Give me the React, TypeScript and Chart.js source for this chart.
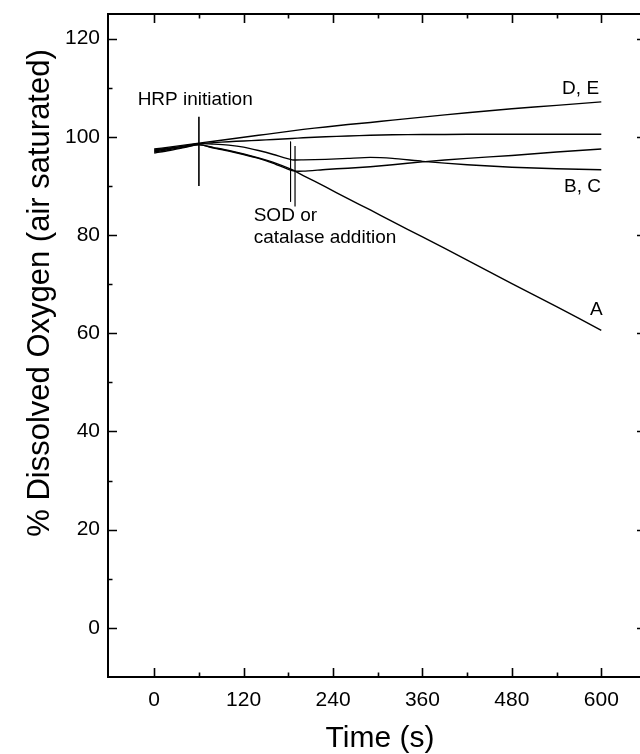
import React, { useEffect, useRef } from "react";
import { Chart, registerables } from "chart.js";

Chart.register(...registerables);

// ---- data ----
const times = [0, 20, 40, 60, 80, 100, 120, 140, 160, 185, 200, 230, 260, 290, 320, 360, 420, 480, 540, 600];
const seriesD = [97.5, 97.9, 98.3, 98.7, 99.1, 99.5, 99.9, 100.3, 100.7, 101.2, 101.5, 102.0, 102.5, 102.9, 103.4, 104.0, 104.9, 105.7, 106.4, 107.1];
const seriesE = [97.3, 97.7, 98.1, 98.6, 98.8, 99.0, 99.15, 99.3, 99.45, 99.65, 99.8, 100.0, 100.15, 100.3, 100.4, 100.45, 100.5, 100.5, 100.5, 100.5];
const seriesB = [97.1, 97.6, 98.1, 98.6, 98.5, 98.3, 97.9, 97.2, 96.4, 95.3, 95.3, 95.4, 95.6, 95.8, 95.6, 95.0, 94.3, 93.8, 93.5, 93.3];
const seriesC = [96.7, 97.2, 97.8, 98.4, 97.7, 97.1, 96.4, 95.6, 94.6, 93.1, 93.0, 93.35, 93.6, 93.9, 94.3, 94.9, 95.6, 96.2, 96.9, 97.5];
const seriesA = [96.9, 97.4, 97.9, 98.4, 97.8, 97.2, 96.5, 95.7, 94.8, 93.3, 92.1, 89.8, 87.4, 85.1, 82.7, 79.6, 74.9, 70.1, 65.4, 60.6];

// event markers (time, from value, to value)
const hrpMarker = { t: 60, from: 90.0, to: 104.1 };
const sodMarker1 = { t: 183, from: 99.0, to: 86.8 };
const sodMarker2 = { t: 189, from: 98.1, to: 85.8 };

// axis ticks
const xTickValues = [0, 120, 240, 360, 480, 600];
const xMinorValues = [60, 180, 300, 420, 540];
const yTickValues = [0, 20, 40, 60, 80, 100, 120];
const yMinorValues = [10, 30, 50, 70, 90, 110];

const xTitle = "Time (s)";
const yTitle = "% Dissolved Oxygen (air saturated)";

// text annotations (data coordinates)
const annotations = [
  { text: "HRP initiation", t: 55, v: 107.5, align: "center" },
  { text: "SOD or", t: 133.5, v: 83.9, align: "left" },
  { text: "catalase addition", t: 133.5, v: 79.4, align: "left" },
  { text: "D, E", t: 597, v: 109.8, align: "right" },
  { text: "B, C", t: 599.5, v: 89.9, align: "right" },
  { text: "A", t: 602, v: 64.7, align: "right" },
];

const FONT = "'Liberation Sans', Arial, Helvetica, sans-serif";

const toPts = (vals: number[]) => vals.map((v, i) => ({ x: times[i], y: v }));
const marker = (m: { t: number; from: number; to: number }) => [
  { x: m.t, y: m.from },
  { x: m.t, y: m.to },
];

const framePlugin = {
  id: "frameAndText",
  afterDraw(chart: any) {
    const { ctx, chartArea, scales } = chart;
    const xs = scales.x;
    const ys = scales.y;
    const { left, right, top, bottom } = chartArea;
    ctx.save();
    ctx.strokeStyle = "#000";
    ctx.lineWidth = 2;
    ctx.strokeRect(left, top, right - left, bottom - top);
    ctx.lineWidth = 1.6;
    const major = 9;
    const minor = 4.5;
    ctx.beginPath();
    const vTick = (vals: number[], len: number) => {
      vals.forEach((v) => {
        const px = Math.round(xs.getPixelForValue(v)) + 0.5;
        ctx.moveTo(px, bottom);
        ctx.lineTo(px, bottom - len);
        ctx.moveTo(px, top);
        ctx.lineTo(px, top + len);
      });
    };
    const hTick = (vals: number[], len: number) => {
      vals.forEach((v) => {
        const py = Math.round(ys.getPixelForValue(v)) + 0.5;
        ctx.moveTo(left, py);
        ctx.lineTo(left + len, py);
        ctx.moveTo(right, py);
        ctx.lineTo(right - len, py);
      });
    };
    vTick(xTickValues, major);
    vTick(xMinorValues, minor);
    hTick(yTickValues, major);
    hTick(yMinorValues, minor);
    ctx.stroke();

    // annotations
    ctx.fillStyle = "#000";
    ctx.font = `19px ${FONT}`;
    ctx.textBaseline = "middle";
    annotations.forEach((a) => {
      ctx.textAlign = a.align as CanvasTextAlign;
      ctx.fillText(a.text, xs.getPixelForValue(a.t), ys.getPixelForValue(a.v));
    });

    // axis titles
    ctx.font = `30px ${FONT}`;
    ctx.textAlign = "center";
    ctx.textBaseline = "middle";
    ctx.fillText(xTitle, 380, 739);
    ctx.font = `31px ${FONT}`;
    ctx.save();
    ctx.translate(40, 293);
    ctx.rotate(-Math.PI / 2);
    ctx.fillText(yTitle, 0, 0);
    ctx.restore();
    ctx.restore();
  },
};

export default function App() {
  const ref = useRef<HTMLCanvasElement | null>(null);
  useEffect(() => {
    if (!ref.current) return;
    const lineStyle = {
      borderColor: "#000",
      borderWidth: 1.4,
      pointRadius: 0,
      fill: false,
      tension: 0.2,
    };
    const markerStyle = {
      borderColor: "#000",
      pointRadius: 0,
      fill: false,
      tension: 0,
    };
    const chart = new Chart(ref.current, {
      type: "line",
      data: {
        datasets: [
          { label: "D", data: toPts(seriesD), ...lineStyle },
          { label: "E", data: toPts(seriesE), ...lineStyle },
          { label: "B", data: toPts(seriesB), ...lineStyle },
          { label: "C", data: toPts(seriesC), ...lineStyle },
          { label: "A", data: toPts(seriesA), ...lineStyle },
          { label: "HRP", data: marker(hrpMarker), borderWidth: 1.6, ...markerStyle },
          { label: "SOD1", data: marker(sodMarker1), borderWidth: 1, ...markerStyle },
          { label: "SOD2", data: marker(sodMarker2), borderWidth: 1.2, ...markerStyle },
        ],
      },
      options: {
        responsive: false,
        animation: false,
        layout: { padding: { top: 14, right: 14, left: 0, bottom: 0 } },
        plugins: { legend: { display: false }, tooltip: { enabled: false } },
        scales: {
          x: {
            type: "linear",
            min: -62,
            max: 660,
            grid: { display: false, drawTicks: false },
            border: { display: false },
            ticks: { color: "#000", font: { family: FONT, size: 21 }, padding: 11, maxRotation: 0 },
            afterBuildTicks: (s: any) => {
              s.ticks = xTickValues.map((v) => ({ value: v }));
            },
            afterFit: (s: any) => {
              s.height = 77;
              s.paddingLeft = 0;
              s.paddingRight = 0;
            },
          },
          y: {
            type: "linear",
            min: -10,
            max: 125,
            grid: { display: false, drawTicks: false },
            border: { display: false },
            ticks: { color: "#000", font: { family: FONT, size: 21 }, padding: 8 },
            afterBuildTicks: (s: any) => {
              s.ticks = yTickValues.map((v) => ({ value: v }));
            },
            afterFit: (s: any) => {
              s.width = 108;
              s.paddingTop = 0;
              s.paddingBottom = 0;
            },
          },
        },
      },
      plugins: [framePlugin],
    } as any);
    return () => chart.destroy();
  }, []);
  return (
    <div style={{ position: "absolute", left: 0, top: 0, width: 640, height: 754, overflow: "hidden", background: "#fff" }}>
      <canvas ref={ref} width={660} height={754} style={{ width: 660, height: 754, display: "block" }} />
    </div>
  );
}
